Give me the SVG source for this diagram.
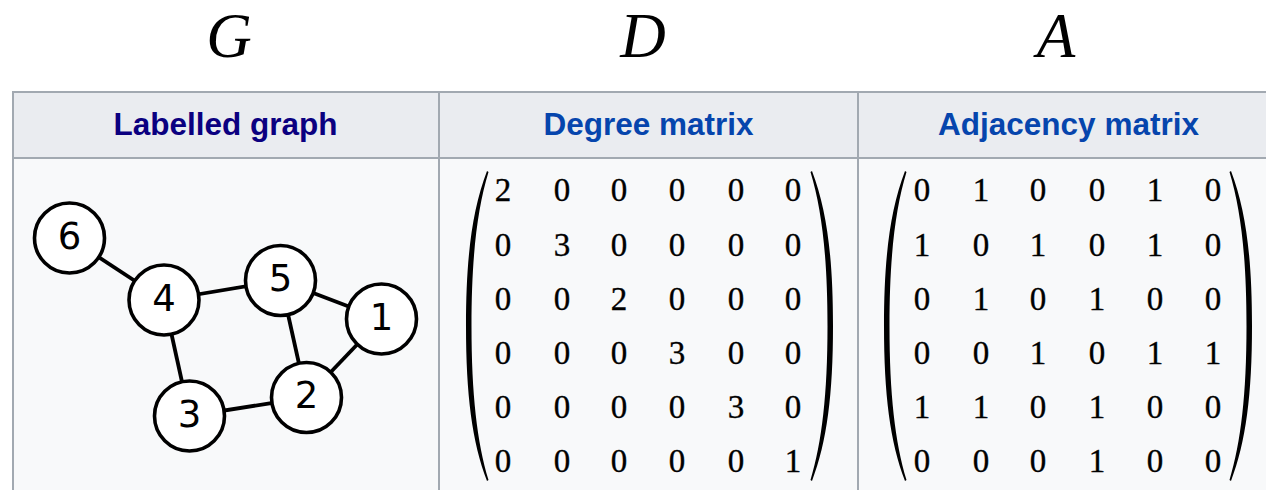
<svg xmlns="http://www.w3.org/2000/svg" width="1266" height="490" viewBox="0 0 1266 490">
<style>
.title{font-family:"Liberation Serif","DejaVu Serif",serif;font-style:italic;font-size:63px;fill:#000;text-anchor:middle}
.hdr{font-family:"Liberation Sans",Arial,sans-serif;font-weight:bold;font-size:31.5px;text-anchor:middle}
.m{font-family:"Liberation Serif","DejaVu Serif",serif;font-size:33px;fill:#000;stroke:#000;stroke-width:0.35;text-anchor:middle}
.node circle{fill:#fff;stroke:#000;stroke-width:3.6}
.node text{font-family:"DejaVu Sans",sans-serif;font-size:37px;fill:#000;text-anchor:middle}
.edge{stroke:#000;stroke-width:3.8}
.grid{stroke:#a2a9b1;stroke-width:2;fill:none}
.paren{fill:#000}
</style>
<rect width="1266" height="490" fill="#fff"/>
<g id="titles">
<text class="title" x="229" y="57">G</text>
<text class="title" x="643" y="57">D</text>
<text class="title" x="1056" y="57">A</text>
</g>
<g id="table">
<rect x="12" y="92" width="1268" height="66" fill="#eaecf0"/>
<rect x="12" y="158" width="1268" height="340" fill="#f8f9fa"/>
<path class="grid" d="M12,92 H1280 M12,158 H1280 M13,92 V498 M439,92 V498 M858,92 V498"/>
<text class="hdr" x="225.5" y="135" fill="#0b0080">Labelled graph</text>
<text class="hdr" x="648.5" y="135" fill="#0645ad">Degree matrix</text>
<text class="hdr" x="1068.5" y="135" fill="#0645ad">Adjacency matrix</text>
</g>
<g id="connectors">
<line class="edge" x1="69.5" y1="238" x2="164" y2="300"/>
<line class="edge" x1="164" y1="300" x2="280.5" y2="280.5"/>
<line class="edge" x1="280.5" y1="280.5" x2="381.5" y2="319"/>
<line class="edge" x1="280.5" y1="280.5" x2="306.5" y2="397.5"/>
<line class="edge" x1="381.5" y1="319" x2="306.5" y2="397.5"/>
<line class="edge" x1="164" y1="300" x2="189.5" y2="416"/>
<line class="edge" x1="189.5" y1="416" x2="306.5" y2="397.5"/>
</g>
<g id="node6" class="node"><circle cx="69.5" cy="238" r="35"/><text x="69.5" y="248.5">6</text></g>
<g id="node4" class="node"><circle cx="164" cy="300" r="35"/><text x="164" y="310.5">4</text></g>
<g id="node5" class="node"><circle cx="280.5" cy="280.5" r="35"/><text x="280.5" y="291">5</text></g>
<g id="node1" class="node"><circle cx="381.5" cy="319" r="35"/><text x="381.5" y="329.5">1</text></g>
<g id="node2" class="node"><circle cx="306.5" cy="397.5" r="35"/><text x="306.5" y="408">2</text></g>
<g id="node3" class="node"><circle cx="189.5" cy="416" r="35"/><text x="189.5" y="426.5">3</text></g>
<g id="degree">
<path class="paren" d="M487,171 C472,210 466,258 466,326 C466,394 472,442 487,481 L488.5,480 C477,442 471.5,394 471.5,326 C471.5,258 477,210 488.5,172 Z"/>
<path class="paren" d="M812,171 C827,210 833,258 833,326 C833,394 827,442 812,481 L810.5,480 C822,442 827.5,394 827.5,326 C827.5,258 822,210 810.5,172 Z"/>
<g class="m">
<text x="503" y="201">2</text><text x="562" y="201">0</text><text x="619" y="201">0</text><text x="677" y="201">0</text><text x="736" y="201">0</text><text x="793" y="201">0</text>
<text x="503" y="255.5">0</text><text x="562" y="255.5">3</text><text x="619" y="255.5">0</text><text x="677" y="255.5">0</text><text x="736" y="255.5">0</text><text x="793" y="255.5">0</text>
<text x="503" y="310">0</text><text x="562" y="310">0</text><text x="619" y="310">2</text><text x="677" y="310">0</text><text x="736" y="310">0</text><text x="793" y="310">0</text>
<text x="503" y="364">0</text><text x="562" y="364">0</text><text x="619" y="364">0</text><text x="677" y="364">3</text><text x="736" y="364">0</text><text x="793" y="364">0</text>
<text x="503" y="418">0</text><text x="562" y="418">0</text><text x="619" y="418">0</text><text x="677" y="418">0</text><text x="736" y="418">3</text><text x="793" y="418">0</text>
<text x="503" y="472">0</text><text x="562" y="472">0</text><text x="619" y="472">0</text><text x="677" y="472">0</text><text x="736" y="472">0</text><text x="793" y="472">1</text>
</g>
</g>
<g id="adjacency">
<path class="paren" d="M905,171 C890,210 884,258 884,326 C884,394 890,442 905,481 L906.5,480 C895,442 889.5,394 889.5,326 C889.5,258 895,210 906.5,172 Z"/>
<path class="paren" d="M1231,171 C1246,210 1252,258 1252,326 C1252,394 1246,442 1231,481 L1229.5,480 C1241,442 1246.5,394 1246.5,326 C1246.5,258 1241,210 1229.5,172 Z"/>
<g class="m">
<text x="922" y="201">0</text><text x="981" y="201">1</text><text x="1038" y="201">0</text><text x="1097" y="201">0</text><text x="1155" y="201">1</text><text x="1213" y="201">0</text>
<text x="922" y="255.5">1</text><text x="981" y="255.5">0</text><text x="1038" y="255.5">1</text><text x="1097" y="255.5">0</text><text x="1155" y="255.5">1</text><text x="1213" y="255.5">0</text>
<text x="922" y="310">0</text><text x="981" y="310">1</text><text x="1038" y="310">0</text><text x="1097" y="310">1</text><text x="1155" y="310">0</text><text x="1213" y="310">0</text>
<text x="922" y="364">0</text><text x="981" y="364">0</text><text x="1038" y="364">1</text><text x="1097" y="364">0</text><text x="1155" y="364">1</text><text x="1213" y="364">1</text>
<text x="922" y="418">1</text><text x="981" y="418">1</text><text x="1038" y="418">0</text><text x="1097" y="418">1</text><text x="1155" y="418">0</text><text x="1213" y="418">0</text>
<text x="922" y="472">0</text><text x="981" y="472">0</text><text x="1038" y="472">0</text><text x="1097" y="472">1</text><text x="1155" y="472">0</text><text x="1213" y="472">0</text>
</g>
</g>
</svg>
